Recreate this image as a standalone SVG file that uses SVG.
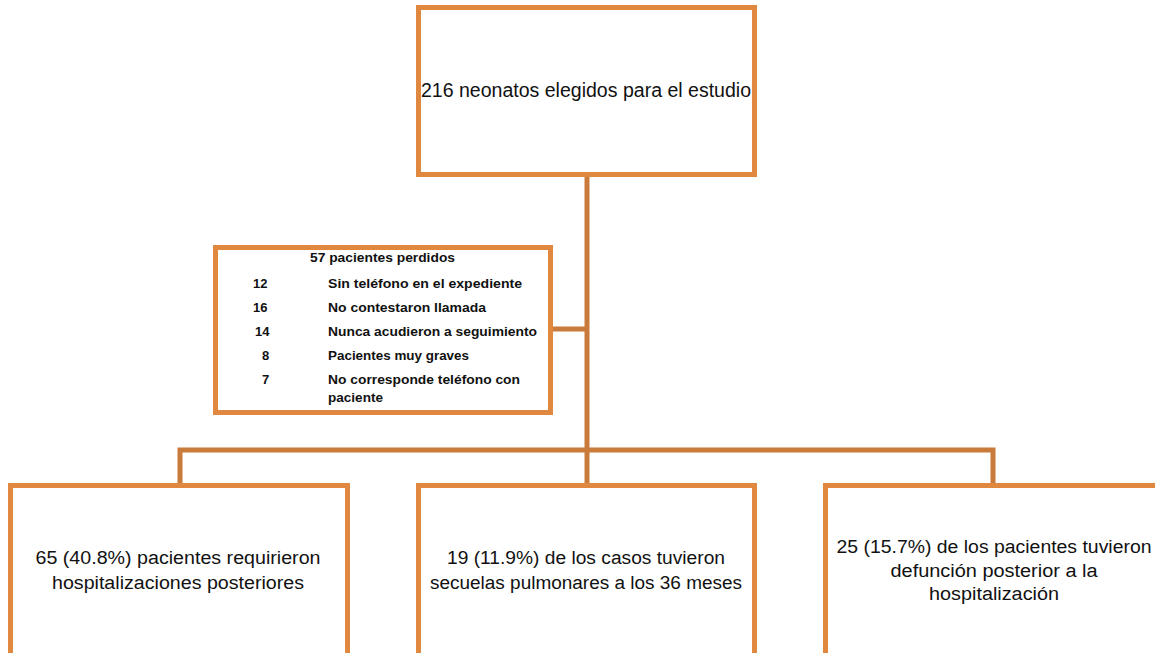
<svg xmlns="http://www.w3.org/2000/svg" width="1155" height="653" viewBox="0 0 1155 653">
<style>
.box{fill:#FFFFFF;stroke:#E0883F;stroke-width:5;}
.conn{fill:none;stroke:#C97B3B;stroke-width:5;}
.t{font-family:"Liberation Sans",Arial,sans-serif;fill:#111111;}
.big{font-size:20px;}
.mid{font-size:18px;}
.sm{font-size:13px;font-weight:bold;}
</style>
<rect width="1155" height="653" fill="#FFFFFF"/>
<g id="connectors">
<line class="conn" x1="587" y1="175" x2="587" y2="450"/>
<line class="conn" x1="551" y1="329" x2="587" y2="329"/>
<polyline class="conn" points="180,486 180,450 993,450 993,486"/>
<line class="conn" x1="587" y1="450" x2="587" y2="486"/>
</g>
<g id="top">
<rect class="box" x="418.5" y="7.5" width="336" height="167"/>
<text class="t big" x="586" y="97" text-anchor="middle" textLength="330" lengthAdjust="spacingAndGlyphs">216 neonatos elegidos para el estudio</text>
</g>
<g id="lost">
<rect class="box" x="215.5" y="247.5" width="335" height="165"/>
<text class="t sm" x="310" y="262" textLength="145" lengthAdjust="spacingAndGlyphs">57 pacientes perdidos</text>
<text class="t sm" x="253" y="288">12</text>
<text class="t sm" x="328" y="288" textLength="194" lengthAdjust="spacingAndGlyphs">Sin teléfono en el expediente</text>
<text class="t sm" x="253" y="312">16</text>
<text class="t sm" x="328" y="312" textLength="158" lengthAdjust="spacingAndGlyphs">No contestaron  llamada</text>
<text class="t sm" x="255" y="336">14</text>
<text class="t sm" x="328" y="336" textLength="209" lengthAdjust="spacingAndGlyphs">Nunca acudieron a seguimiento</text>
<text class="t sm" x="262" y="360">8</text>
<text class="t sm" x="328" y="360" textLength="141" lengthAdjust="spacingAndGlyphs">Pacientes muy graves</text>
<text class="t sm" x="262" y="384">7</text>
<text class="t sm" x="328" y="384" textLength="192" lengthAdjust="spacingAndGlyphs">No corresponde teléfono con</text>
<text class="t sm" x="328" y="402" textLength="55" lengthAdjust="spacingAndGlyphs">paciente</text>
</g>
<g id="hosp">
<rect class="box" x="10.5" y="485.5" width="337" height="175"/>
<text class="t mid" x="178" y="564" text-anchor="middle" textLength="285" lengthAdjust="spacingAndGlyphs">65 (40.8%) pacientes requirieron</text>
<text class="t mid" x="178" y="589" text-anchor="middle" textLength="252" lengthAdjust="spacingAndGlyphs">hospitalizaciones posteriores</text>
</g>
<g id="secuelas">
<rect class="box" x="418.5" y="485.5" width="336" height="175"/>
<text class="t mid" x="586" y="564" text-anchor="middle" textLength="278" lengthAdjust="spacingAndGlyphs">19 (11.9%) de los casos tuvieron</text>
<text class="t mid" x="586" y="589" text-anchor="middle" textLength="312" lengthAdjust="spacingAndGlyphs">secuelas pulmonares a los 36 meses</text>
</g>
<g id="defuncion">
<rect class="box" x="825.5" y="485.5" width="337" height="175"/>
<text class="t mid" x="994" y="553" text-anchor="middle" textLength="315" lengthAdjust="spacingAndGlyphs">25 (15.7%) de los pacientes tuvieron</text>
<text class="t mid" x="994" y="577" text-anchor="middle" textLength="207" lengthAdjust="spacingAndGlyphs">defunción posterior a la</text>
<text class="t mid" x="994" y="600" text-anchor="middle" textLength="130" lengthAdjust="spacingAndGlyphs">hospitalización</text>
</g>
</svg>
